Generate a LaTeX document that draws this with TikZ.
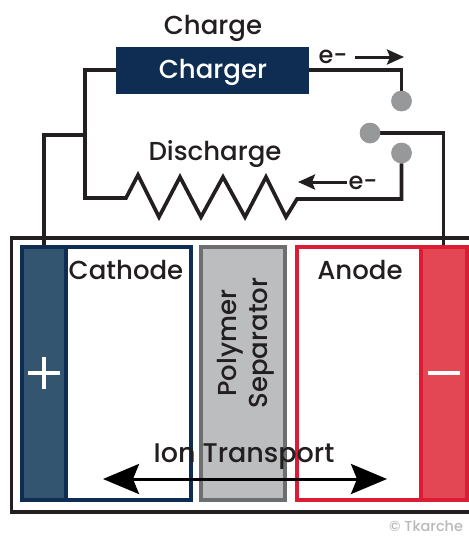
\documentclass[tikz,border=0pt]{standalone}
\usepackage{fontspec}
\setmainfont{Poppins}[UprightFont=* Medium]
\usetikzlibrary{arrows.meta,calc}
\definecolor{ink}{HTML}{231F20}
\definecolor{navy}{HTML}{0F2D52}
\definecolor{navyfill}{HTML}{34556F}
\definecolor{sepfill}{HTML}{BBBDBF}
\definecolor{sepline}{HTML}{6D6E70}
\definecolor{redline}{HTML}{DC1C35}
\definecolor{redfill}{HTML}{E24753}
\definecolor{dotgray}{HTML}{97989A}
\tikzset{
  wire/.style={draw=ink,line width=3.7pt,line join=miter},
  lbl/.style={text=ink,font=\fontsize{26}{30}\selectfont,inner sep=0pt},
  term/.style={circle,fill=dotgray,minimum size=20.5pt,inner sep=0pt},
  small/.style={-{Stealth[length=17pt,width=15pt,inset=3pt]},draw=ink,line width=3pt},
  ion/.style={{Stealth[length=36pt,width=30pt,inset=6pt]}-{Stealth[length=36pt,width=30pt,inset=6pt]},draw=black,line width=3pt},
  cellrect/.style={rectangle,line width=3.8pt,inner sep=0pt,anchor=north west,minimum height=253.4pt},
}
\begin{document}
\begin{tikzpicture}[x=1pt,y=-1pt]
\useasboundingbox (0,0) rectangle (469,536);
\clip (0,0) rectangle (469,536);
% nodes
\node[rectangle,fill=navy,minimum width=193pt,minimum height=47pt,inner sep=0pt] (charger) at (212.5,70.5) {};
\node[term] (top) at (401.5,101) {};
\node[term] (mid) at (370,133) {};
\node[term] (low) at (401.5,153) {};
\coordinate (resR) at (297,199);
\coordinate (resL) at (126,198);
\coordinate (cathTop) at (44,247);
\coordinate (anTop) at (443.5,247);
\coordinate (junc) at (85,135);
% outer case
\draw[draw=ink,line width=3.8pt] (11.5,238) rectangle (480,512);
% wires
\draw[wire] (charger.west |- 0,70) -| (junc) -- (85,198) -- (resL)
  -- (138,175) -- (159,217) -- (180,177) -- (201,217) -- (223,177) -- (245,217) -- (266,177) -- (286,217) -- (resR) -| (low.south);
\draw[wire] (charger.east |- 0,70) -| (top.north);
\draw[wire] (mid.east) -| (anTop);
\draw[wire] (junc) -| (cathTop);
% terminals on top
\node[term] at (top) {};
\node[term] at (mid) {};
\node[term] at (low) {};
% cell
\node[cellrect,draw=navy,minimum width=169.2pt,fill=white] (cathode) at (20,245) {};
\node[cellrect,draw=navy,fill=navyfill,minimum width=43.7pt] (plusbar) at (20,245) {};
\node[cellrect,draw=sepline,fill=sepfill,minimum width=84.2pt] (sep) at (199,245) {};
\node[cellrect,draw=redline,fill=white,minimum width=170.2pt] (anode) at (295,245) {};
\node[cellrect,draw=redline,fill=redfill,minimum width=46.2pt] (minusbar) at (419,245) {};
% signs
\fill[white] (28,371.2) rectangle (60,374.8);
\fill[white] (42.2,357) rectangle (45.8,389);
\fill[white] (428,371.2) rectangle (460,374.8);
% labels
\node[lbl,text=white] (chargerlab) at (213,72) {Charger};
\node[lbl] (charge) at (213,28) {Charge};
\node[lbl] (discharge) at (215,154) {Discharge};
\node[lbl,font=\fontsize{24}{28}\selectfont] (e1) at (333,57) {e-};
\node[lbl,font=\fontsize{24}{28}\selectfont] (e2) at (363,183) {e-};
\node[lbl] (cathlab) at (126,269.5) {Cathode};
\node[lbl] (anlab) at (360,269.5) {Anode};
\node[lbl,rotate=90] (poly) at (230,343) {Polymer};
\node[lbl,rotate=90] (sepa) at (262,343) {Separator};
\node[lbl,font=\fontsize{27}{30}\selectfont] (ionlab) at (244,457) {Ion Transport};
\node[text=black!28,font=\fontsize{14.5}{17}\selectfont,inner sep=0pt,anchor=west] (copy) at (389,526.5) {© Tkarche};
% arrows
\coordinate (a1s) at (355,57);\coordinate (a1e) at (404,57);
\coordinate (a2s) at (347,182);\coordinate (a2e) at (298,182);
\coordinate (ionL) at (103,479);\coordinate (ionR) at (387,479);
\draw[small] (a1s) -- (a1e);
\draw[small] (a2s) -- (a2e);
\draw[ion] (ionL) -- (ionR);
\end{tikzpicture}
\end{document}
